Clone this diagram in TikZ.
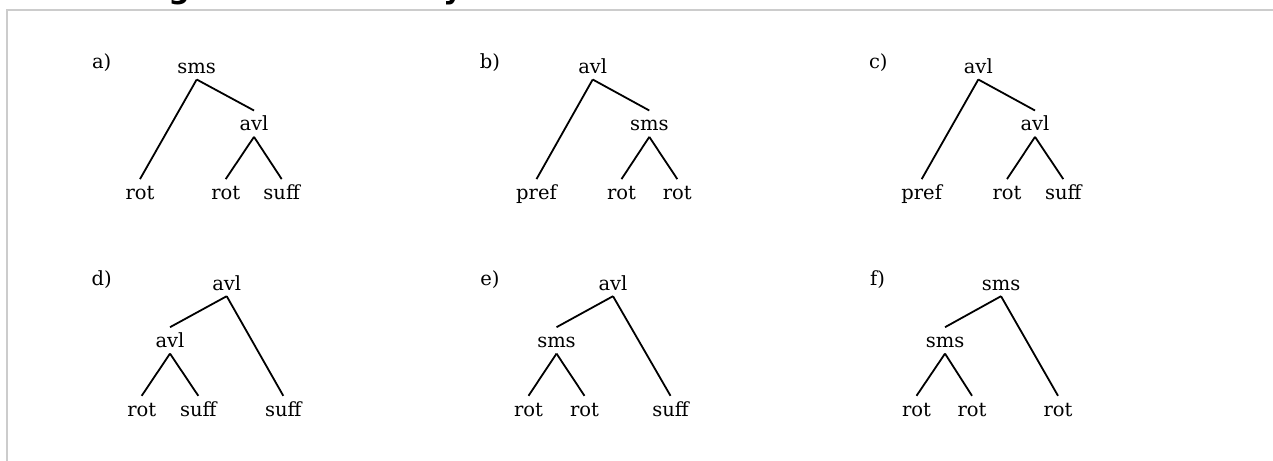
\documentclass[tikz,border=0pt]{standalone}
\usepackage{fontspec}
\setmainfont{DejaVu Serif}
\newfontfamily\titlefont{DejaVu Sans}
\tikzset{
  tn/.style={font=\fontsize{19.5}{23}\selectfont, inner xsep=0pt, inner ysep=6pt,
             text height=14pt, text depth=0pt, anchor=base},
  edge/.style={line width=1.8pt, black},
  framel/.style={draw=black!20, line width=2pt},
  ttl/.style={font=\titlefont\bfseries\fontsize{30}{34}\selectfont, inner sep=0pt, anchor=base}
}
\begin{document}
\begin{tikzpicture}[x=1pt,y=-1pt]
\useasboundingbox (0,0) rectangle (1273,460);
% cut-off title and frame
\node[ttl] (tg) at (179,-1) {g};
\node[ttl] (ty) at (453,-1) {y};
\coordinate (f1) at (7,470);
\coordinate (f2) at (7,10.5);
\coordinate (f3) at (1283,10.5);
\draw[framel] (f1) -- (f2) -- (f3);

% a)
\node[tn] (a0) at (101.7,68.3) {a)};
\node[tn] (a1) at (196.7,73.3) {sms};
\node[tn] (a2) at (254,130.7) {avl};
\node[tn] (a3) at (140,199.3) {rot};
\node[tn] (a4) at (225.7,199.3) {rot};
\node[tn] (a5) at (281.7,199.3) {suff};
\draw[edge] (a1.south) -- (a3.north);
\draw[edge] (a1.south) -- (a2.north);
\draw[edge] (a2.south) -- (a4.north);
\draw[edge] (a2.south) -- (a5.north);

% b)
\node[tn] (b0) at (490,68.3) {b)};
\node[tn] (b1) at (592.7,73.3) {avl};
\node[tn] (b2) at (649.3,130.7) {sms};
\node[tn] (b3) at (536.5,199.3) {pref};
\node[tn] (b4) at (621.5,199.3) {rot};
\node[tn] (b5) at (677.3,199.3) {rot};
\draw[edge] (b1.south) -- (b3.north);
\draw[edge] (b1.south) -- (b2.north);
\draw[edge] (b2.south) -- (b4.north);
\draw[edge] (b2.south) -- (b5.north);

% c)
\node[tn] (c0) at (878.3,68.3) {c)};
\node[tn] (c1) at (978.3,73.3) {avl};
\node[tn] (c2) at (1035,130.7) {avl};
\node[tn] (c3) at (921.7,199.3) {pref};
\node[tn] (c4) at (1007,199.3) {rot};
\node[tn] (c5) at (1063.3,199.3) {suff};
\draw[edge] (c1.south) -- (c3.north);
\draw[edge] (c1.south) -- (c2.north);
\draw[edge] (c2.south) -- (c4.north);
\draw[edge] (c2.south) -- (c5.north);

% d)
\node[tn] (d0) at (101.7,285) {d)};
\node[tn] (d1) at (226.7,290) {avl};
\node[tn] (d2) at (170,347.4) {avl};
\node[tn] (d3) at (141.7,416) {rot};
\node[tn] (d4) at (198.3,416) {suff};
\node[tn] (d5) at (283.3,416) {suff};
\draw[edge] (d1.south) -- (d2.north);
\draw[edge] (d1.south) -- (d5.north);
\draw[edge] (d2.south) -- (d3.north);
\draw[edge] (d2.south) -- (d4.north);

% e)
\node[tn] (e0) at (490,285) {e)};
\node[tn] (e1) at (613,290) {avl};
\node[tn] (e2) at (556.5,347.4) {sms};
\node[tn] (e3) at (528.5,416) {rot};
\node[tn] (e4) at (584.5,416) {rot};
\node[tn] (e5) at (670.5,416) {suff};
\draw[edge] (e1.south) -- (e2.north);
\draw[edge] (e1.south) -- (e5.north);
\draw[edge] (e2.south) -- (e3.north);
\draw[edge] (e2.south) -- (e4.north);

% f)
\node[tn] (g0) at (877.5,285) {f)};
\node[tn] (g1) at (1001,290) {sms};
\node[tn] (g2) at (945,347.4) {sms};
\node[tn] (g3) at (916.5,416) {rot};
\node[tn] (g4) at (972,416) {rot};
\node[tn] (g5) at (1058,416) {rot};
\draw[edge] (g1.south) -- (g2.north);
\draw[edge] (g1.south) -- (g5.north);
\draw[edge] (g2.south) -- (g3.north);
\draw[edge] (g2.south) -- (g4.north);
\end{tikzpicture}
\end{document}
